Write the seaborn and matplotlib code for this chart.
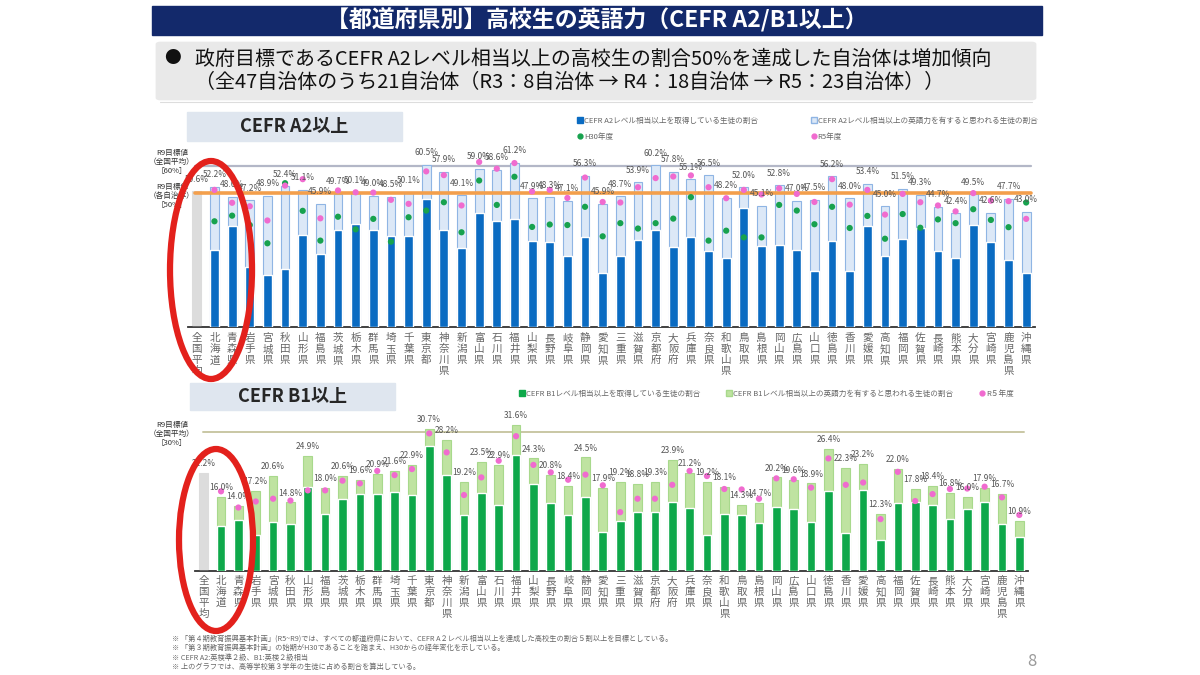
import matplotlib
matplotlib.use("Agg")
import matplotlib.pyplot as plt
from matplotlib.patches import Ellipse, FancyBboxPatch, Rectangle
from matplotlib.lines import Line2D
import numpy as np
import seaborn as sns

sns.set_style("white")
plt.rcParams['font.family'] = ['Noto Sans CJK JP', 'DejaVu Sans']

# prefectures (全国 first)
names = ['全国平均', '北海道', '青森県', '岩手県', '宮城県', '秋田県', '山形県', '福島県',
         '茨城県', '栃木県', '群馬県', '埼玉県', '千葉県', '東京都', '神奈川県', '新潟県',
         '富山県', '石川県', '福井県', '山梨県', '長野県', '岐阜県', '静岡県', '愛知県',
         '三重県', '滋賀県', '京都府', '大阪府', '兵庫県', '奈良県', '和歌山県', '鳥取県',
         '島根県', '岡山県', '広島県', '山口県', '徳島県', '香川県', '愛媛県', '高知県',
         '福岡県', '佐賀県', '長崎県', '熊本県', '大分県', '宮崎県', '鹿児島県', '沖縄県']

# CEFR A2 - total (label value) / acquired / H30 / R5
a2_total = [50.6, 52.2, 48.6, 47.2, 48.9, 52.4, 51.1, 45.9, 49.7, 50.1, 49.0, 48.5,
            50.1, 60.5, 57.9, 49.1, 59.0, 58.6, 61.2, 47.9, 48.3, 47.1, 56.3, 45.9,
            48.7, 53.9, 60.2, 57.8, 55.1, 56.5, 48.2, 52.0, 45.1, 52.8, 47.0, 47.5,
            56.2, 48.0, 53.4, 45.0, 51.5, 49.3, 44.7, 42.4, 49.5, 42.6, 47.7, 43.0]
a2_acquired = [0, 28.8, 37.7, 22.2, 19.5, 21.6, 34.3, 27.3, 36.0, 38.5, 36.2, 34.0,
               33.8, 47.6, 36.0, 29.4, 42.4, 39.4, 40.3, 32.2, 31.8, 26.4, 33.4, 20.1,
               26.3, 32.4, 36.3, 29.9, 33.4, 28.4, 25.9, 44.4, 30.3, 30.5, 28.7, 20.8,
               32.0, 20.7, 37.8, 26.3, 32.8, 37.0, 28.4, 25.9, 38.2, 31.5, 24.9, 20.1]
a2_h30 = [np.nan, 39.4, 41.5, 38.0, 31.2, 53.6, 43.3, 32.2, 41.1, 36.4, 40.3, 31.8,
          40.9, 43.4, 46.5, 35.3, 54.6, 45.5, 56.0, 37.3, 38.2, 38.0, 44.8, 33.8,
          38.7, 36.7, 38.7, 40.4, 48.4, 32.2, 35.9, 33.4, 33.4, 45.5, 43.4, 38.3,
          44.8, 36.9, 41.4, 32.9, 42.1, 37.0, 40.1, 38.7, 43.9, 39.9, 37.2, 46.4]
a2_r5 = [np.nan, 51.1, 46.3, 45.0, 39.7, 52.7, 55.1, 40.5, 50.9, 50.2, 50.1, 47.4,
         45.9, 58.0, 56.6, 45.3, 61.5, 59.0, 61.1, 50.5, 51.1, 48.1, 55.7, 46.6,
         46.4, 52.1, 55.5, 56.1, 56.5, 52.1, 48.0, 51.1, 49.4, 51.7, 49.6, 46.6,
         55.1, 45.6, 51.1, 41.9, 49.6, 46.5, 45.3, 43.1, 49.9, 47.1, 46.9, 40.3]

# CEFR B1 - total (label value) / acquired / R5
b1_total = [21.2, 16.0, 14.0, 17.2, 20.6, 14.8, 24.9, 18.0, 20.6, 19.6, 20.9, 21.6,
            22.9, 30.7, 28.2, 19.2, 23.5, 22.9, 31.6, 24.3, 20.8, 18.4, 24.5, 17.9,
            19.2, 18.8, 19.3, 23.9, 21.2, 19.2, 18.1, 14.3, 14.7, 20.2, 19.6, 18.9,
            26.4, 22.3, 23.2, 12.3, 22.0, 17.8, 18.4, 16.8, 16.0, 17.9, 16.7, 10.9]
b1_acquired = [0, 9.8, 11.0, 7.8, 10.5, 10.2, 18.1, 12.3, 15.5, 16.7, 16.7, 17.0,
               16.5, 26.9, 20.7, 12.1, 16.9, 14.3, 25.1, 18.7, 14.6, 12.0, 16.0, 8.4,
               10.9, 12.8, 12.8, 15.0, 13.6, 7.8, 12.3, 12.0, 10.3, 13.9, 13.4, 10.6,
               17.2, 8.3, 17.4, 6.6, 14.7, 15.0, 14.2, 11.2, 13.3, 14.9, 10.2, 7.4]
b1_r5 = [np.nan, 17.2, 13.7, 15.0, 15.6, 15.2, 17.4, 17.4, 19.5, 18.9, 21.6, 20.7,
         22.0, 29.7, 25.6, 16.4, 20.2, 23.8, 29.1, 22.9, 21.3, 19.7, 20.8, 18.5,
         12.7, 15.6, 15.6, 18.6, 21.6, 20.5, 17.7, 17.6, 15.6, 20.0, 19.8, 18.0,
         24.3, 18.6, 19.1, 11.2, 21.4, 15.1, 16.6, 17.7, 17.8, 18.2, 15.9, 12.1]

W, H = 1200, 675
GRAY_TXT = '#555555'

fig = plt.figure(figsize=(12, 6.75), dpi=100)
fig.patch.set_facecolor('white')


def fbox(x0, y0, x1, y1):
    # pixel box (top-left origin) -> figure fraction
    return [x0 / W, 1 - y1 / H, (x1 - x0) / W, (y1 - y0) / H]


def vert(n):
    return '\n'.join(n)


pos = np.arange(len(names))

# ---------------- header ----------------
fig.add_artist(Rectangle((152 / W, 1 - 35 / H), (1042 - 152) / W, 29 / H,
                         transform=fig.transFigure, color='#13296b', zorder=0))
fig.text(597 / W, 1 - 20.5 / H, '【都道府県別】高校生の英語力（CEFR A2/B1以上）',
         ha='center', va='center', color='white', fontsize=16.5, fontweight='bold')

fig.add_artist(FancyBboxPatch((158 / W, 1 - 99 / H), (1034 - 158) / W, 56 / H,
                              boxstyle='round,pad=0.002,rounding_size=0.004',
                              transform=fig.transFigure, facecolor='#e9e9e9',
                              edgecolor='none', zorder=0))
fig.text(172 / W, 1 - 59 / H, '●', ha='center', va='center', fontsize=12, color='#111')
fig.text(195 / W, 1 - 59 / H,
         '政府目標であるCEFR A2レベル相当以上の高校生の割合50%を達成した自治体は増加傾向',
         ha='left', va='center', fontsize=14.4, color='#111')
fig.text(195 / W, 1 - 82 / H,
         '（全47自治体のうち21自治体（R3：8自治体 → R4：18自治体 → R5：23自治体））',
         ha='left', va='center', fontsize=14.4, color='#111')
fig.add_artist(Line2D([160 / W, 1032 / W], [1 - 102 / H, 1 - 102 / H],
                      transform=fig.transFigure, color='#dddddd', lw=0.8))

# ---------------- CEFR A2 chart ----------------
ax1 = fig.add_axes(fbox(188, 327 - 80 * 2.683, 1035, 327))
pal1 = {n: ('#dcdcdc' if i == 0 else '#dce8f7') for i, n in enumerate(names)}
sns.barplot(x=names, y=a2_total, hue=names, palette=pal1, legend=False, width=0.5,
            saturation=1, errorbar=None, ax=ax1, zorder=2)
for i, p in enumerate(ax1.patches):
    p.set_edgecolor('#dcdcdc' if i == 0 else '#8fb5e4')
    p.set_linewidth(0.8)
sns.barplot(x=names, y=a2_acquired, color='#0a6bc2', width=0.5, saturation=1,
            errorbar=None, ax=ax1, zorder=3)
ax1.axhline(60, xmin=0.008, xmax=0.995, color='#b3b7c7', lw=1.6, zorder=1)
ax1.axhline(50, xmin=0.008, xmax=0.995, color='#f39f4c', lw=2.6, zorder=4)
sns.scatterplot(x=pos, y=a2_h30, color='#17a24e', s=20, edgecolor='none', ax=ax1, zorder=5)
sns.scatterplot(x=pos, y=a2_r5, color='#f06bcf', s=20, edgecolor='none', ax=ax1, zorder=5)
for i, v in enumerate(a2_total):
    ax1.annotate(f'{v:.1f}%', (i, v), xytext=(0, 5.5), textcoords='offset points',
                 ha='center', va='bottom', fontsize=6, color=GRAY_TXT, zorder=6)
ax1.set_xlim(-0.5, len(names) - 0.5)
ax1.set_ylim(0, 80)

# ---------------- CEFR B1 chart ----------------
ax2 = fig.add_axes(fbox(195, 571 - 40 * 4.633, 1028, 571))
pal2 = {n: ('#dcdcdc' if i == 0 else '#bfe3a1') for i, n in enumerate(names)}
sns.barplot(x=names, y=b1_total, hue=names, palette=pal2, legend=False, width=0.5,
            saturation=1, errorbar=None, ax=ax2, zorder=2)
for i, p in enumerate(ax2.patches):
    p.set_edgecolor('#dcdcdc' if i == 0 else '#a8d98c')
    p.set_linewidth(0.8)
sns.barplot(x=names, y=b1_acquired, color='#0ea84a', width=0.5, saturation=1,
            errorbar=None, ax=ax2, zorder=3)
ax2.axhline(30, xmin=0.01, xmax=0.995, color='#c9c7a4', lw=1.4, zorder=1)
sns.scatterplot(x=pos, y=b1_r5, color='#f06bcf', s=20, edgecolor='none', ax=ax2, zorder=5)
for i, v in enumerate(b1_total):
    ax2.annotate(f'{v:.1f}%', (i, v), xytext=(0, 3.5), textcoords='offset points',
                 ha='center', va='bottom', fontsize=6, color=GRAY_TXT, zorder=6)
ax2.set_xlim(-0.5, len(names) - 0.5)
ax2.set_ylim(0, 40)

for ax, pad in ((ax1, 4.5), (ax2, 3.5)):
    ax.set_xticks(pos)
    ax.set_xticklabels([vert(n) for n in names], fontsize=7.6, color='#666666',
                       linespacing=1.12, va='top')
    ax.tick_params(axis='x', length=0, pad=pad)
    ax.set_yticks([])
    ax.set_xlabel('')
    ax.set_ylabel('')
    for s in ('top', 'left', 'right'):
        ax.spines[s].set_visible(False)
    ax.spines['bottom'].set_color('#333333')
    ax.spines['bottom'].set_linewidth(1.3)
    ax.patch.set_alpha(0)

# section labels
for (x0, y0, x1, y1), txt in (((187, 112, 402, 141), 'CEFR A2以上'),
                              ((190, 383, 395, 410), 'CEFR B1以上')):
    fig.add_artist(Rectangle((x0 / W, 1 - y1 / H), (x1 - x0) / W, (y1 - y0) / H,
                             transform=fig.transFigure, color='#dfe6ef', zorder=0))
    fig.text((x0 + x1) / 2 / W, 1 - (y0 + y1) / 2 / H, txt, ha='center', va='center',
             fontsize=13, fontweight='bold', color='#262626')

# target labels at left
for y, lines in ((162, ['R9目標値', '（全国平均）', '［60%］']),
                 (196, ['R9目標値', '（各自治体）', '［50%］']),
                 (434, ['R9目標値', '（全国平均）', '［30%］'])):
    fig.text(172 / W, 1 - y / H, '\n'.join(lines), ha='center', va='center',
             fontsize=5.5, color='#333333', linespacing=1.25)

# legends
leg1 = [Line2D([], [], marker='s', ls='', color='#0a6bc2', markersize=4.5,
               label='CEFR A2レベル相当以上を取得している生徒の割合'),
        Line2D([], [], marker='o', ls='', color='#17a24e', markersize=3.5, label='H30年度'),
        Line2D([], [], marker='s', ls='', markerfacecolor='#dce8f7', markeredgecolor='#8fb5e4',
               markersize=4.5, label='CEFR A2レベル相当以上の英語力を有すると思われる生徒の割合'),
        Line2D([], [], marker='o', ls='', color='#f06bcf', markersize=3.5, label='R5年度')]
fig.legend(handles=leg1, ncol=2, loc='upper left', bbox_to_anchor=(571 / W, 1 - 110 / H),
           frameon=False, fontsize=5.5, handlelength=0.6, handletextpad=0.2,
           columnspacing=7.0, labelspacing=1.0, labelcolor='#666666')

leg2 = [Line2D([], [], marker='s', ls='', color='#0ea84a', markersize=4.5,
               label='CEFR B1レベル相当以上を取得している生徒の割合'),
        Line2D([], [], marker='s', ls='', markerfacecolor='#bfe3a1', markeredgecolor='#a8d98c',
               markersize=4.5, label='CEFR B1レベル相当以上の英語力を有すると思われる生徒の割合'),
        Line2D([], [], marker='o', ls='', color='#f06bcf', markersize=3.5, label='R５年度')]
fig.legend(handles=leg2, ncol=3, loc='upper left', bbox_to_anchor=(513 / W, 1 - 383 / H),
           frameon=False, fontsize=5.5, handlelength=0.6, handletextpad=0.2,
           columnspacing=3.5, labelcolor='#666666')

# footnotes
notes = ['※ 「第４期教育振興基本計画」(R5~R9)では、すべての都道府県において、CEFR A２レベル相当以上を達成した高校生の割合５割以上を目標としている。',
         '※ 「第３期教育振興基本計画」の始期がH30であることを踏まえ、H30からの経年変化を示している。',
         '※ CEFR A2:英検準２級、B1:英検２級相当',
         '※ 上のグラフでは、高等学校第３学年の生徒に占める割合を算出している。']
for k, t in enumerate(notes):
    fig.text(172 / W, 1 - (639 + 9.3 * k) / H, t, ha='left', va='center',
             fontsize=5.2, color='#666666')
fig.text(1032 / W, 1 - 661 / H, '8', ha='center', va='center', fontsize=12, color='#9a9a9a')

# red hand-drawn circles
for cx, cy, w, h in ((211, 270, 82, 218), (216, 540, 74, 182)):
    fig.add_artist(Ellipse((cx / W, 1 - cy / H), w / W, h / H, transform=fig.transFigure,
                           fill=False, edgecolor='#e3211c', lw=4.5, zorder=10))

fig.savefig('out.png', dpi=100)
